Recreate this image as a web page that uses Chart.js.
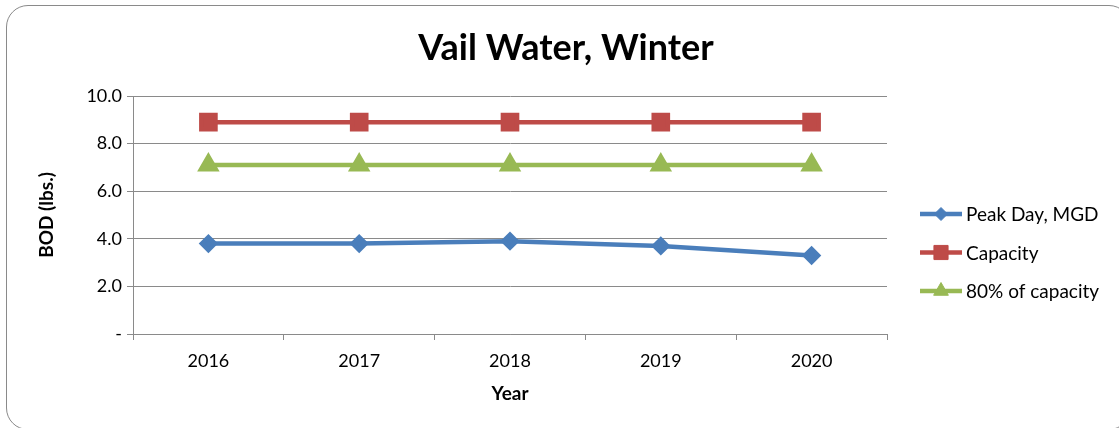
<!DOCTYPE html>
<html>
<head>
<meta charset="utf-8">
<script src="https://cdn.jsdelivr.net/npm/chart.js@4/dist/chart.umd.min.js"></script>
<style>
  body { margin: 0; background: #fff; }
  #wrap { position: relative; width: 1119px; height: 428px; overflow: hidden; }
  #frame {
    position: absolute; left: 6px; top: 5px; width: 1125px; height: 425px;
    border: 1.5px solid #8a8a8a; border-radius: 22px; box-sizing: border-box;
  }
  #chart { position: absolute; left: 0; top: 0; }
</style>
</head>
<body>
<div id="wrap">
  <div id="frame"></div>
  <canvas id="chart" width="1119" height="428"></canvas>
</div>
<script>
const years = ["2016", "2017", "2018", "2019", "2020"];
const peakDay = [3.8, 3.8, 3.9, 3.7, 3.3];
const capacity = [8.9, 8.9, 8.9, 8.9, 8.9];
const capacity80 = [7.1, 7.1, 7.1, 7.1, 7.1];
const seriesNames = ["Peak Day, MGD", "Capacity", "80% of capacity"];

const FONT = "Lato, 'Liberation Sans', sans-serif";
const gridColor = "#8a8a8a";

// title + legend drawn by hand so they sit where Excel put them
const decor = {
  id: "decor",
  afterDraw(chart) {
    const ctx = chart.ctx;
    ctx.save();
    ctx.fillStyle = "#000";
    ctx.font = "bold 36px " + FONT;
    ctx.textAlign = "center";
    ctx.textBaseline = "middle";
    ctx.fillText("Vail Water, Winter", 566, 48);

    ctx.font = "19px " + FONT;
    ctx.textAlign = "left";
    chart.data.datasets.forEach((ds, i) => {
      const y = 214 + i * 38.5;
      ctx.strokeStyle = ds.borderColor;
      ctx.lineWidth = ds.borderWidth;
      ctx.beginPath();
      ctx.moveTo(920, y);
      ctx.lineTo(962, y);
      ctx.stroke();
      ctx.fillStyle = ds.pointBackgroundColor;
      ctx.strokeStyle = ds.pointBackgroundColor;
      ctx.lineWidth = 1;
      Chart.helpers.drawPoint(ctx, { pointStyle: ds.pointStyle, radius: ds.pointRadius, rotation: 0, borderWidth: 1 }, 941, y);
      ctx.fillStyle = "#000";
      ctx.fillText(ds.label, 966, y + 1);
    });
    ctx.restore();
  }
};

new Chart("chart", {
  type: "line",
  data: {
    labels: years,
    datasets: [
      {
        label: seriesNames[0], data: peakDay,
        borderColor: "#4a7ebb", backgroundColor: "#4a7ebb",
        pointBackgroundColor: "#4a7ebb", pointBorderColor: "#4a7ebb",
        borderWidth: 4.5, pointStyle: "rectRot", pointRadius: 6.5, pointHoverRadius: 6.5
      },
      {
        label: seriesNames[1], data: capacity,
        borderColor: "#be4b48", backgroundColor: "#be4b48",
        pointBackgroundColor: "#be4b48", pointBorderColor: "#be4b48",
        borderWidth: 4.5, pointStyle: "rect", pointRadius: 10, pointHoverRadius: 10
      },
      {
        label: seriesNames[2], data: capacity80,
        borderColor: "#98b954", backgroundColor: "#98b954",
        pointBackgroundColor: "#98b954", pointBorderColor: "#98b954",
        borderWidth: 4.5, pointStyle: "triangle", pointRadius: 8.5, pointHoverRadius: 8.5
      }
    ]
  },
  options: {
    responsive: false,
    animation: false,
    layout: { padding: { top: 96, right: 232, left: 0, bottom: 0 } },
    plugins: {
      legend: { display: false },
      title: { display: false },
      tooltip: { enabled: false }
    },
    scales: {
      x: {
        offset: true,
        grid: { offset: true, drawOnChartArea: false, drawTicks: true, tickLength: 6, color: gridColor },
        border: { color: gridColor },
        ticks: { color: "#000", padding: 10, font: { family: FONT, size: 18 } },
        title: { display: true, text: "Year", color: "#000", padding: { top: 0, bottom: 22.6 }, font: { family: FONT, size: 19, weight: "bold" } },
        afterFit(scale) { scale.height = 94; }
      },
      y: {
        min: 0, max: 10,
        grid: { color: gridColor, tickLength: 6 },
        border: { color: gridColor },
        ticks: {
          stepSize: 2, color: "#000", padding: 5,
          font: { family: FONT, size: 18 },
          callback: v => v === 0 ? "-" : v.toFixed(1)
        },
        title: { display: true, text: "BOD (lbs.)", color: "#000", padding: { top: 35.6, bottom: 0 }, font: { family: FONT, size: 19, weight: "bold" } },
        afterFit(scale) { scale.width = 133; }
      }
    }
  },
  plugins: [decor]
});
</script>
</body>
</html>
